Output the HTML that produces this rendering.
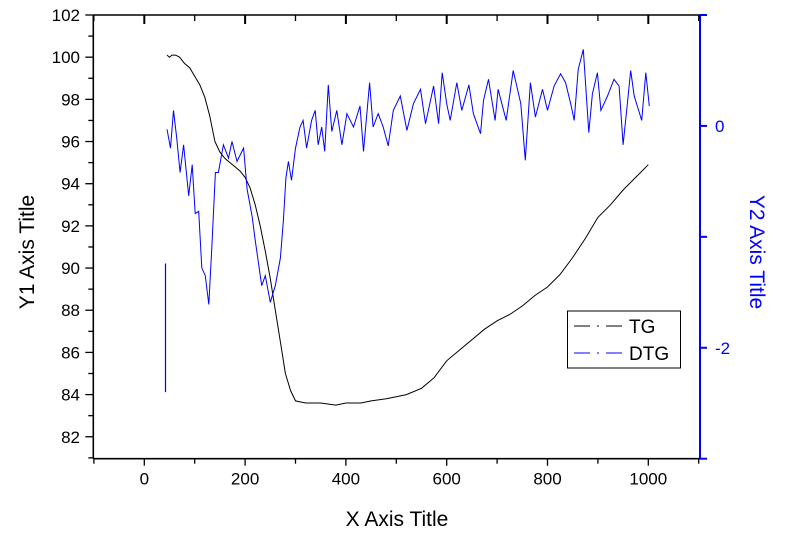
<!DOCTYPE html>
<html><head><meta charset="utf-8"><style>
html,body{margin:0;padding:0;background:#fff;}
svg{display:block;font-family:"Liberation Sans",Arial,sans-serif;}
</style></head><body>
<svg id="chart" width="800" height="538" viewBox="0 0 800 538" xmlns="http://www.w3.org/2000/svg">
<rect x="0" y="0" width="800" height="538" fill="#fff"/>
<g id="plot"></g>
</svg>
<script>
const tgX=[45,50,55,62,70,80,90,100,110,120,130,140,150,160,170,180,190,200,210,220,230,240,250,260,270,280,290,300,320,350,380,400,430,450,480,500,520,550,575,600,625,650,675,700,725,750,775,800,825,850,875,900,925,950,975,1000];
const tgY=[100.1,100.0,100.1,100.1,100.0,99.7,99.5,99.1,98.7,98.1,97.2,96.0,95.5,95.2,95.0,94.8,94.6,94.3,93.8,93.0,92.0,90.8,89.5,88.0,86.5,85.0,84.2,83.7,83.6,83.6,83.5,83.6,83.6,83.7,83.8,83.9,84.0,84.3,84.8,85.6,86.1,86.6,87.1,87.5,87.8,88.2,88.7,89.1,89.7,90.5,91.4,92.4,93.0,93.7,94.3,94.9];
const dtgX=[45,52,58,64,71,78,88,95,101,108,114,121,128,134,141,147,157,167,174,184,197,204,214,220,227,233,240,250,260,270,276,281,286,292,300,309,315,322,332,339,345,352,358,365,372,382,392,402,415,428,435,447,454,464,474,484,494,508,521,534,548,558,574,584,591,600,607,620,630,644,653,667,673,683,696,702,718,732,747,756,766,776,790,800,813,826,836,846,853,861,871,882,889,899,906,919,932,942,950,958,965,972,987,995,1002];
const dtgY=[-0.03,-0.2,0.14,-0.1,-0.42,-0.17,-0.63,-0.35,-0.79,-0.77,-1.28,-1.35,-1.61,-1.1,-0.42,-0.42,-0.17,-0.29,-0.14,-0.32,-0.2,-0.57,-0.82,-1.03,-1.25,-1.44,-1.35,-1.59,-1.44,-1.19,-0.85,-0.47,-0.32,-0.49,-0.2,-0.01,0.05,-0.2,0.05,0.14,-0.17,-0.01,-0.23,0.37,-0.05,0.14,-0.17,0.11,-0.01,0.18,-0.23,0.39,-0.01,0.11,-0.01,-0.18,0.14,0.27,-0.04,0.2,0.33,0.02,0.36,0.02,0.48,0.2,0.05,0.39,0.14,0.37,0.11,-0.07,0.23,0.42,0.05,0.33,0.05,0.5,0.2,-0.31,0.39,0.08,0.33,0.14,0.36,0.47,0.39,0.2,0.05,0.51,0.69,-0.06,0.29,0.48,0.14,0.27,0.42,0.36,-0.17,0.18,0.5,0.27,0.05,0.48,0.18];
const spikeX=[42,42];
const spikeY=[-1.24,-2.4];
const xTicks=[0,200,400,600,800,1000];
const y1Ticks=[82,84,86,88,90,92,94,96,98,100,102];
const y2Ticks=[0,-2];

const L=93.3,R=700,T=15,B=458.7;
const X0=144.3,XK=0.504;
function sx(v){return X0+v*XK;}
const Y1MIN=80.96,Y1MAX=102;
function sy1(v){return T+(Y1MAX-v)/(Y1MAX-Y1MIN)*(B-T);}
const Y2MIN=-3,Y2MAX=1;
function sy2(v){return T+(Y2MAX-v)/(Y2MAX-Y2MIN)*(B-T);}

const NS="http://www.w3.org/2000/svg";
const g=document.getElementById('plot');
function mk(tag,attrs,parent){const e=document.createElementNS(NS,tag);for(const k in attrs)e.setAttribute(k,attrs[k]);(parent||g).appendChild(e);return e;}

let d=tgX.map((x,i)=>(i?'L':'M')+sx(x).toFixed(1)+' '+sy1(tgY[i]).toFixed(1)).join(' ');
const tg=mk('path',{d:d,fill:'none',stroke:'#000','stroke-width':1});


d=dtgX.map((x,i)=>(i?'L':'M')+sx(x).toFixed(1)+' '+sy2(dtgY[i]).toFixed(1)).join(' ');
const dtg=mk('path',{d:d,fill:'none',stroke:'#0000ff','stroke-width':1});


d=spikeX.map((x,i)=>(i?'L':'M')+sx(x).toFixed(1)+' '+sy2(spikeY[i]).toFixed(1)).join(' ');
const sp=mk('path',{d:d,fill:'none',stroke:'#0000ff','stroke-width':1.2});



const ax=mk('g',{});


mk('line',{x1:L,y1:T,x2:R,y2:T,stroke:'#000','stroke-width':1.6},ax);
mk('line',{x1:L,y1:B,x2:R,y2:B,stroke:'#000','stroke-width':1.6},ax);
mk('line',{x1:L,y1:T,x2:L,y2:B,stroke:'#000','stroke-width':1.6},ax);
mk('line',{x1:R,y1:T,x2:R,y2:B,stroke:'#0000ff','stroke-width':2},ax);
for(let v=-100;v<=1100;v+=100){
  const x=sx(v);const major=(v%200===0);
  mk('line',{x1:x,y1:B,x2:x,y2:B+(major?7:5),stroke:'#000','stroke-width':1.3},ax);
  mk('line',{x1:x,y1:T,x2:x,y2:T+(major?9:6),stroke:'#000','stroke-width':(major?2:1.3)},ax);
}
xTicks.forEach(v=>{const t=mk('text',{x:sx(v),y:B+26,'text-anchor':'middle','font-size':17},ax);t.textContent=v;

});
for(let v=81;v<=102;v++){
  const y=sy1(v);const major=(v%2===0);
  mk('line',{x1:L,y1:y,x2:L-(major?8:5),y2:y,stroke:'#000','stroke-width':1.3},ax);
}
y1Ticks.forEach(v=>{const t=mk('text',{x:80,y:sy1(v)+6,'text-anchor':'end','font-size':17},ax);t.textContent=v;

});
for(let v=-3;v<=1;v++){
  const y=sy2(v);
  mk('line',{x1:R,y1:y,x2:R+7,y2:y,stroke:'#0000ff','stroke-width':2},ax);
}
y2Ticks.forEach(v=>{const t=mk('text',{x:R+15,y:sy2(v)+6,'text-anchor':'start','font-size':17,fill:'#0000ff'},ax);t.textContent=(v<0?'-':'')+Math.abs(v);

});

let t=mk('text',{x:397,y:526,'text-anchor':'middle','font-size':21});t.textContent='X Axis Title';


t=mk('text',{x:0,y:0,'text-anchor':'middle','font-size':21,transform:'translate(34 252) rotate(-90)'});t.textContent='Y1 Axis Title';


t=mk('text',{x:0,y:0,'text-anchor':'middle','font-size':21,fill:'#0000ff',transform:'translate(750 252) rotate(90)'});t.textContent='Y2 Axis Title';



const lg=mk('g',{});


mk('rect',{x:567.5,y:311,width:113,height:57,fill:'#fff',stroke:'#000','stroke-width':1},lg);
[['TG','#000',326],['DTG','#0000ff',353]].forEach(([n,c,y])=>{
  const e=mk('g',{},lg);
  
  
  mk('line',{x1:574,y1:y,x2:590,y2:y,stroke:c,'stroke-width':1},e);
  mk('line',{x1:597,y1:y,x2:599,y2:y,stroke:c,'stroke-width':1},e);
  mk('line',{x1:606,y1:y,x2:622,y2:y,stroke:c,'stroke-width':1},e);
  const tx=mk('text',{x:629,y:y+7,'font-size':19},e);tx.textContent=n;
});
</script>
</body></html>
